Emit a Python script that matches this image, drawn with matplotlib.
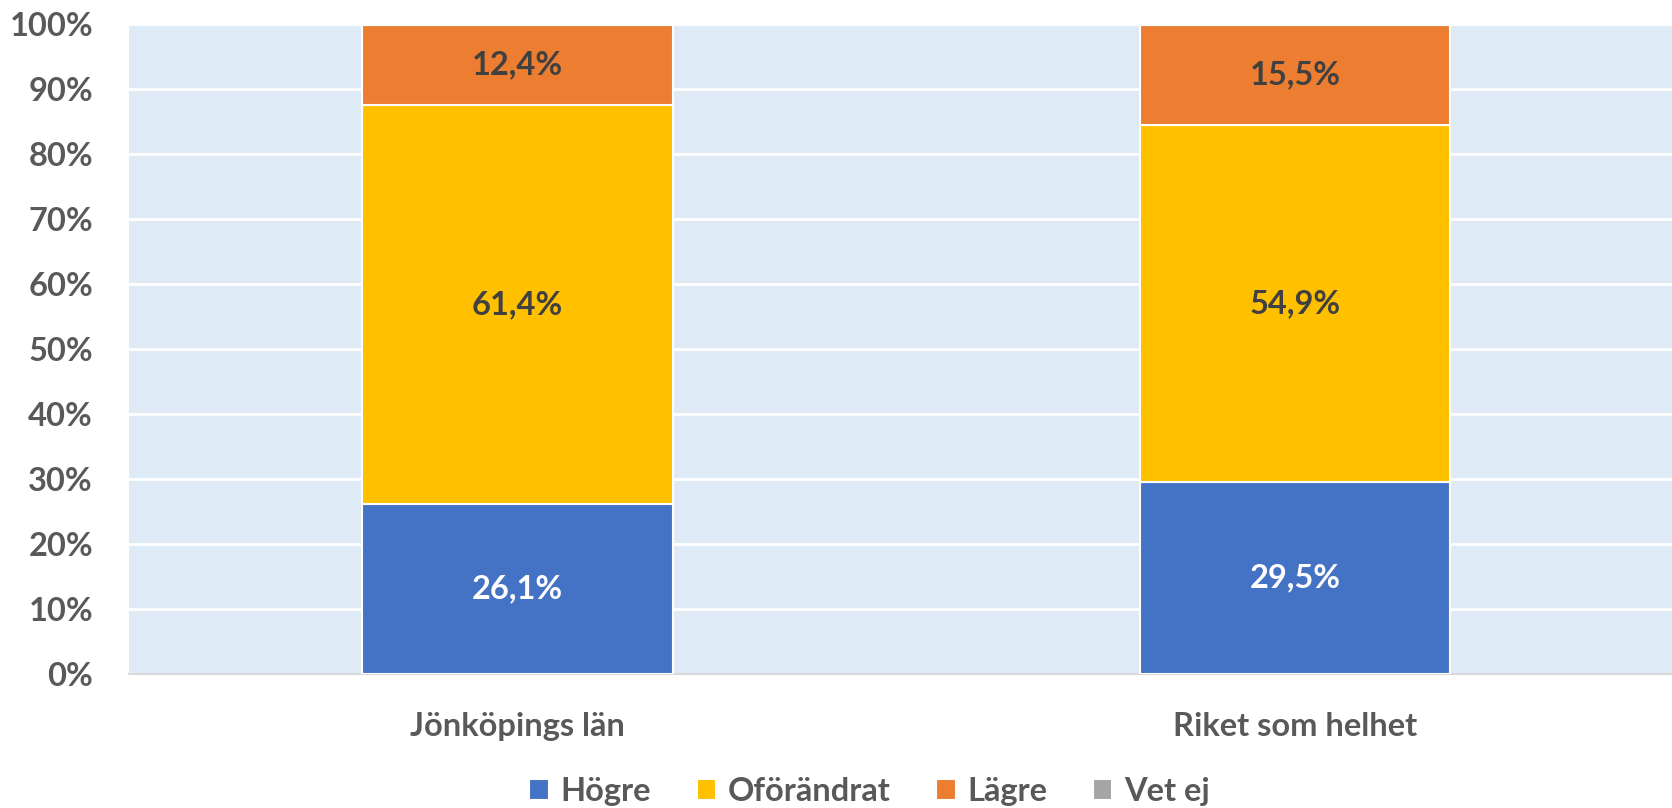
import numpy as np
import matplotlib
matplotlib.use("Agg")
from matplotlib import pyplot as plt
from matplotlib.ticker import PercentFormatter

# data
categories = ["Jönköpings län", "Riket som helhet"]
series = ["Högre", "Oförändrat", "Lägre", "Vet ej"]
hogre = [26.1, 29.5]
oforandrat = [61.4, 54.9]
lagre = [12.4, 15.5]
vet_ej = [0.1, 0.1]

colors = ["#4472C4", "#FFC000", "#ED7D31", "#A5A5A5"]
label_colors = ["white", "#404040", "#404040", None]

plt.rcParams['font.family'] = ['Lato', 'DejaVu Sans']
plt.rcParams['font.weight'] = 'bold'
FS = 23.5

fig = plt.figure(figsize=(16.72, 8.08), dpi=100)
ax = fig.add_axes([0.0772, 0.1658, 0.9228, 0.8045])
ax.set_facecolor("#DEEAF6")

x = np.arange(len(categories))
bottom = np.zeros(len(categories))
for name, vals, col, lc in zip(series, [hogre, oforandrat, lagre, vet_ej], colors, label_colors):
    bars = ax.bar(x, vals, width=0.4, bottom=bottom, color=col, edgecolor="white",
                  linewidth=1.5, label=name, zorder=3)
    if lc is not None:
        labels = [f"{v:.1f}%".replace(".", ",") for v in vals]
        ax.bar_label(bars, labels=labels, label_type="center", color=lc,
                     fontsize=FS, fontweight="bold")
    bottom += np.array(vals)

ax.set_xlim(-0.5, 1.485)
ax.set_ylim(0, 100)
ax.set_yticks(np.arange(0, 101, 10))
ax.yaxis.set_major_formatter(PercentFormatter(decimals=0))
ax.set_xticks(x)
ax.set_xticklabels(categories)
ax.grid(axis="y", color="white", linewidth=2, zorder=0)
ax.set_axisbelow(True)

for s in ["top", "right", "left"]:
    ax.spines[s].set_visible(False)
ax.spines["bottom"].set_color("#D9D9D9")
ax.spines["bottom"].set_linewidth(1.5)

ax.tick_params(axis="y", length=0, pad=26, labelsize=FS, labelcolor="#595959")
ax.tick_params(axis="x", length=0, pad=27, labelsize=FS, labelcolor="#595959")
for t in ax.get_yticklabels() + ax.get_xticklabels():
    t.set_fontweight("bold")

fig.legend(loc="center", bbox_to_anchor=(0.52, 0.02), ncol=4, frameon=False,
           labelcolor="#595959", handlelength=0.6, handleheight=0.6,
           handletextpad=0.35, columnspacing=1.4, prop={'weight': 'bold', 'size': FS})

plt.savefig("out.png", dpi=100)
